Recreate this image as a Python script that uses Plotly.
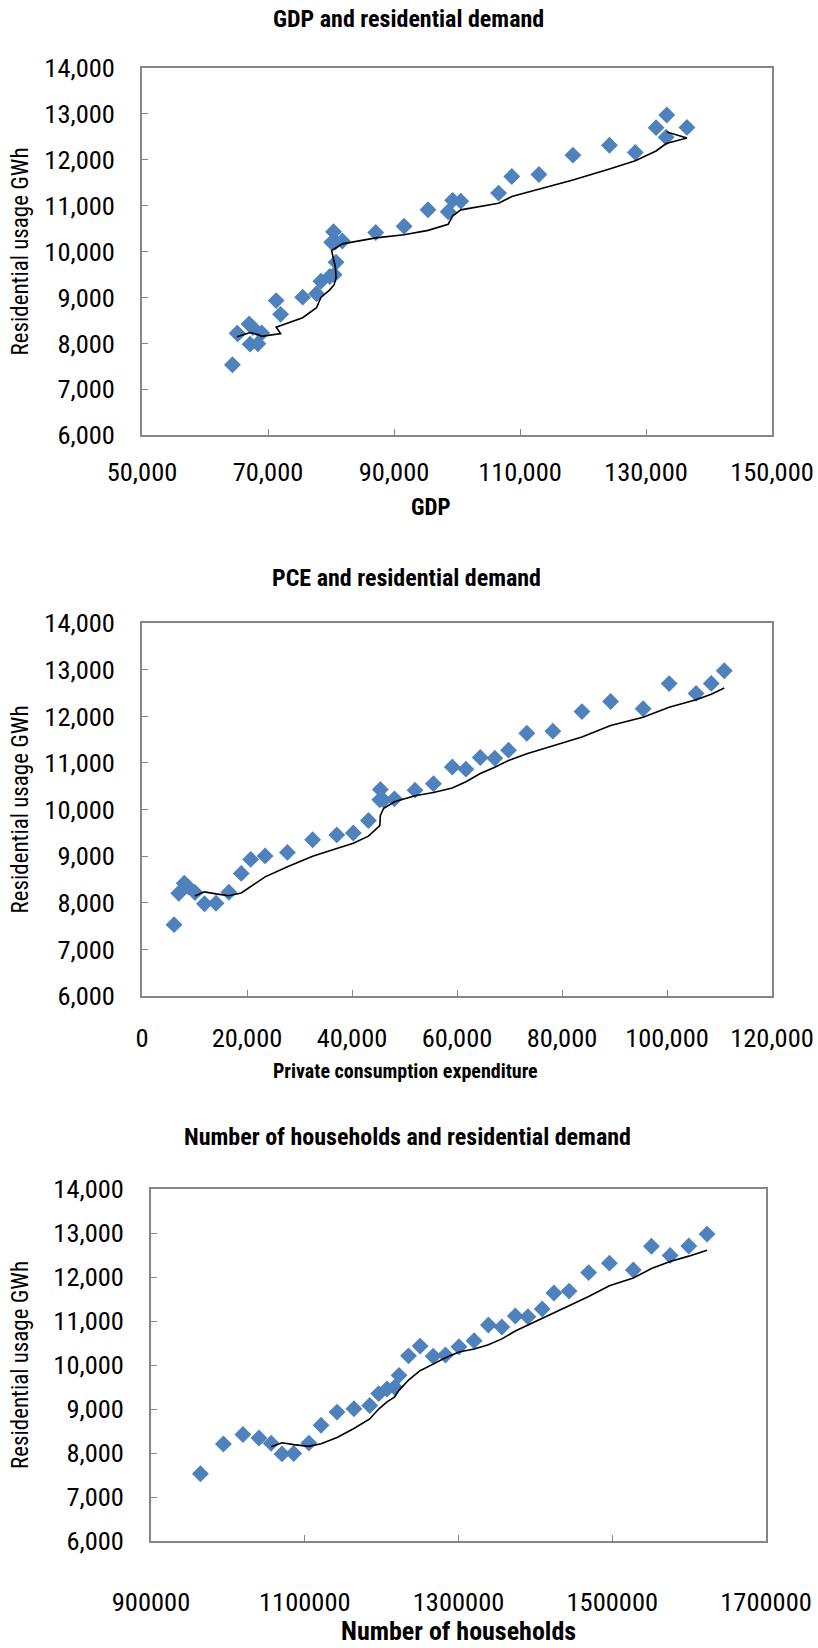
import plotly.graph_objects as go

# Residential usage (GWh), in time order
usage = [7530, 8205, 8420, 8340, 8220, 7980, 7990, 8225, 8630, 8930, 9005, 9080,
         9350, 9455, 9495, 9765, 10208, 10430, 10200, 10228, 10415, 10552, 10910, 10865,
         11115, 11098, 11273, 11635, 11680, 12100, 12315, 12160, 12700, 12490, 12705, 12975]

gdp = [64350, 65200, 67000, 67600, 65100, 67150, 68400, 69000, 72000, 71300, 75500, 77700,
       78400, 79800, 80500, 80800, 80700, 80400, 80100, 81800, 87100, 91600, 95400, 98600,
       99300, 100600, 106600, 108700, 113000, 118400, 124200, 128300, 131600, 133200, 136500, 133300]

pce = [6100, 7000, 8050, 8800, 10100, 11900, 14100, 16550, 18900, 20700, 23450, 27700,
       32500, 37100, 40250, 43130, 45300, 45400, 46000, 48080, 52000, 55520, 59100, 61700,
       64430, 67200, 69820, 73300, 78260, 83800, 89260, 95450, 100410, 105540, 108430, 110910]

households = [964300, 994200, 1019600, 1040500, 1056300, 1070400, 1085600, 1105400, 1121200,
              1142000, 1164000, 1184500, 1196200, 1207000, 1217000, 1222700, 1235000, 1250000,
              1267000, 1283000, 1300600, 1320300, 1338900, 1356400, 1373900, 1390300, 1408900,
              1424100, 1443900, 1469300, 1496300, 1527400, 1551000, 1575300, 1599600, 1623300]

titles = ["GDP and residential demand", "PCE and residential demand",
          "Number of households and residential demand"]
x_titles = ["GDP", "Private consumption expenditure", "Number of households"]
y_title = "Residential usage GWh"
PERIOD = 5

W, H = 818, 1648
FONT = "Liberation Sans Narrow, Arial Narrow, Roboto Condensed, Arial, sans-serif"
BLUE = "#4F81BD"
GREY = "#868686"


def moving_avg(xs, ys, n):
    mx, my = [], []
    for i in range(n - 1, len(ys)):
        mx.append(xs[i])
        my.append(sum(ys[i - n + 1:i + 1]) / n)
    return mx, my


# plot boxes in pixels: (left, right, top, bottom)
boxes = [(142, 772, 68, 435), (142, 772, 623, 996), (151, 766, 1189, 1541)]
xranges = [[50000, 150000], [0, 120000], [900000, 1700000]]
xtick0 = [50000, 0, 900000]
xdticks = [20000, 20000, 200000]
xfmts = [",", ",", "d"]
xlab_standoff = [12, 17, 36]
title_y = [19, 578, 1137]
title_x = [408, 406, 407]
xtitle_y = [507, 1071, 1631]
xtitle_x = [431, 405, 458]
xtitle_size = [23, 20, 26]
xs_all = [gdp, pce, households]

fig = go.Figure()
layout = dict(width=W, height=H, margin=dict(l=0, r=0, t=0, b=0, autoexpand=False),
              paper_bgcolor="white", plot_bgcolor="white", showlegend=False,
              font=dict(family=FONT, size=26, color="black"))
annotations = []

for k in range(3):
    xs = xs_all[k]
    ax = "" if k == 0 else str(k + 1)
    fig.add_trace(go.Scatter(x=xs, y=usage, mode="markers", xaxis="x" + ax, yaxis="y" + ax,
                             marker=dict(symbol="diamond", size=13, color=BLUE,
                                         line=dict(width=0))))
    mx, my = moving_avg(xs, usage, PERIOD)
    fig.add_trace(go.Scatter(x=mx, y=my, mode="lines", xaxis="x" + ax, yaxis="y" + ax,
                             line=dict(color="black", width=1.6)))
    l, r, t, b = boxes[k]
    layout["xaxis" + ax] = dict(domain=[l / W, r / W], anchor="y" + ax, range=xranges[k],
                                dtick=xdticks[k], tick0=xtick0[k], tickformat=xfmts[k],
                                showgrid=False, zeroline=False, showline=True,
                                linecolor=GREY, linewidth=1.5, mirror=True,
                                ticks="inside", ticklen=6, tickcolor=GREY,
                                ticklabelstandoff=xlab_standoff[k],
                                tickfont=dict(family=FONT, size=26.5))
    layout["yaxis" + ax] = dict(domain=[1 - b / H, 1 - t / H], anchor="x" + ax,
                                range=[6000, 14000], dtick=1000, tick0=0, tickformat=",",
                                showgrid=False, zeroline=False, showline=True,
                                linecolor=GREY, linewidth=1.5, mirror=True,
                                ticks="inside", ticklen=6, tickcolor=GREY,
                                ticklabelstandoff=20,
                                tickfont=dict(family=FONT, size=26.5))
    annotations.append(dict(text="<b>" + titles[k] + "</b>", x=title_x[k] / W, y=1 - title_y[k] / H,
                            xref="paper", yref="paper", showarrow=False,
                            xanchor="center", yanchor="middle",
                            font=dict(family=FONT, size=24)))
    annotations.append(dict(text="<b>" + x_titles[k] + "</b>", x=xtitle_x[k] / W, y=1 - xtitle_y[k] / H,
                            xref="paper", yref="paper", showarrow=False,
                            xanchor="center", yanchor="middle",
                            font=dict(family=FONT, size=xtitle_size[k])))
    annotations.append(dict(text=y_title, x=20 / W, y=1 - ((t + b) / 2) / H,
                            xref="paper", yref="paper", showarrow=False, textangle=-90,
                            xanchor="center", yanchor="middle",
                            font=dict(family=FONT, size=23)))

layout["annotations"] = annotations
fig.update_layout(**layout)
fig.write_html("out.html", config={"displayModeBar": False},
               post_script="document.body.style.margin='0';document.body.style.overflow='hidden';")
